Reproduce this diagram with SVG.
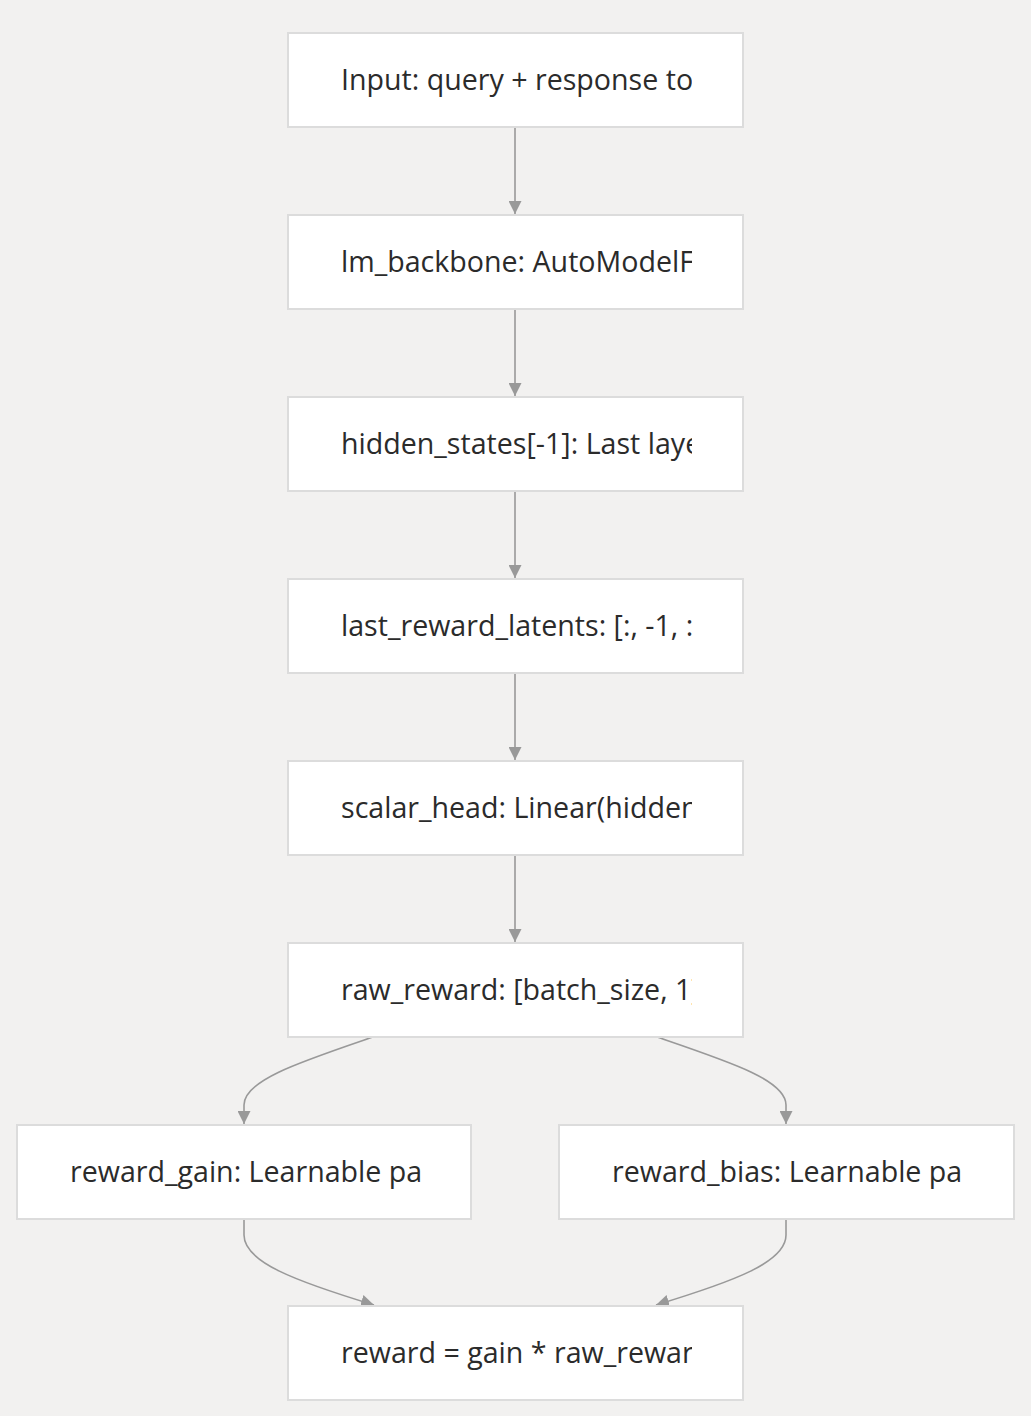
<svg xmlns="http://www.w3.org/2000/svg" width="1031" height="1416" viewBox="0 0 1031 1416">
<style>
.bg{fill:#f2f1f0}
.node rect{fill:#ffffff;stroke:#dcdcdc;stroke-width:2}
.node text{font-family:"Open Sans","Noto Sans","Liberation Sans",sans-serif;font-size:28.6px;fill:#2b2b2b}
.edge{fill:none;stroke:#999999;stroke-width:1.6}
</style>
<defs>
<marker id="arr" viewBox="0 0 10 10" refX="10" refY="5" markerWidth="13" markerHeight="13" markerUnits="userSpaceOnUse" orient="auto">
<path d="M0,0 L10,5 L0,10 z" fill="#999999"/>
</marker>
<clipPath id="cm1"><rect x="330" y="33" width="362" height="94"/></clipPath>
<clipPath id="cm2"><rect x="330" y="215" width="362" height="94"/></clipPath>
<clipPath id="cm3"><rect x="330" y="397" width="362" height="94"/></clipPath>
<clipPath id="cm4"><rect x="330" y="579" width="362" height="94"/></clipPath>
<clipPath id="cm5"><rect x="330" y="761" width="362" height="94"/></clipPath>
<clipPath id="cm6"><rect x="330" y="943" width="362" height="94"/></clipPath>
<clipPath id="cl"><rect x="59" y="1125" width="362" height="94"/></clipPath>
<clipPath id="cr"><rect x="601" y="1125" width="362" height="94"/></clipPath>
<clipPath id="cm7"><rect x="330" y="1306" width="362" height="94"/></clipPath>
</defs>
<rect class="bg" x="0" y="0" width="1031" height="1416"/>
<g id="edges">
<path class="edge" d="M515,127 L515,214" marker-end="url(#arr)"/>
<path class="edge" d="M515,309 L515,396" marker-end="url(#arr)"/>
<path class="edge" d="M515,491 L515,578" marker-end="url(#arr)"/>
<path class="edge" d="M515,673 L515,760" marker-end="url(#arr)"/>
<path class="edge" d="M515,855 L515,942" marker-end="url(#arr)"/>
<path class="edge" d="M373,1037 C300,1062 244,1080 244,1105 L244,1124" marker-end="url(#arr)"/>
<path class="edge" d="M657,1037 C730,1062 786,1080 786,1105 L786,1124" marker-end="url(#arr)"/>
<path class="edge" d="M244,1219 L244,1235 C244,1262 295,1281 374,1305" marker-end="url(#arr)"/>
<path class="edge" d="M786,1219 L786,1235 C786,1262 735,1281 656,1305" marker-end="url(#arr)"/>
</g>
<g id="n1" class="node"><rect x="288" y="33" width="455" height="94"/><text x="341" y="90" clip-path="url(#cm1)">Input: query + response tokens</text></g>
<g id="n2" class="node"><rect x="288" y="215" width="455" height="94"/><text x="341" y="272" clip-path="url(#cm2)">lm_backbone: AutoModelForCausalLM</text></g>
<g id="n3" class="node"><rect x="288" y="397" width="455" height="94"/><text x="341" y="454" clip-path="url(#cm3)">hidden_states[-1]: Last layer</text></g>
<g id="n4" class="node"><rect x="288" y="579" width="455" height="94"/><text x="341" y="636" clip-path="url(#cm4)">last_reward_latents: [:, -1, :]</text></g>
<g id="n5" class="node"><rect x="288" y="761" width="455" height="94"/><text x="341" y="818" clip-path="url(#cm5)">scalar_head: Linear(hidden_size, 1)</text></g>
<g id="n6" class="node"><rect x="288" y="943" width="455" height="94"/><text x="341" y="1000" clip-path="url(#cm6)">raw_reward: [batch_size, 1]</text></g>
<g id="n7" class="node"><rect x="17" y="1125" width="454" height="94"/><text x="70" y="1182" clip-path="url(#cl)">reward_gain: Learnable param</text></g>
<g id="n8" class="node"><rect x="559" y="1125" width="455" height="94"/><text x="612" y="1182" clip-path="url(#cr)">reward_bias: Learnable param</text></g>
<g id="n9" class="node"><rect x="288" y="1306" width="455" height="94"/><text x="341" y="1363" clip-path="url(#cm7)">reward = gain * raw_reward + bias</text></g>
</svg>
